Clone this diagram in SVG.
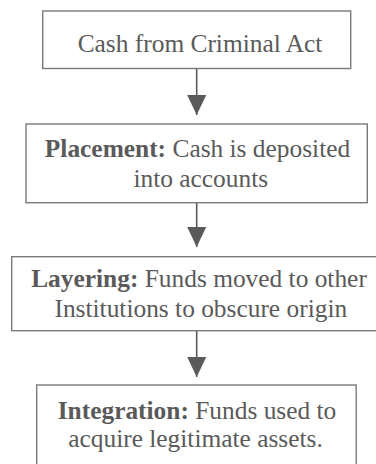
<svg xmlns="http://www.w3.org/2000/svg" width="376" height="464" viewBox="0 0 376 464">
<defs>
<style>
.box{fill:#ffffff;stroke:#7a7a7a;stroke-width:1.4}
text{font-family:'Liberation Serif','Times New Roman','DejaVu Serif',serif;font-size:25.4px;fill:#5a5a5a;text-anchor:middle}
.b{font-weight:bold}
.line{stroke:#5a5a5a;stroke-width:1.6;fill:none}
</style>
<marker id="ah" viewBox="0 0 20 19" refX="20" refY="9.5" markerWidth="20" markerHeight="19" markerUnits="userSpaceOnUse" orient="auto">
<path d="M0,0 L20,9.5 L0,19 Z" fill="#5a5a5a"/>
</marker>
</defs>
<rect width="376" height="464" fill="#ffffff"/>
<g id="connectors">
<line class="line" x1="196.7" y1="69" x2="196.7" y2="115" marker-end="url(#ah)"/>
<line class="line" x1="196.7" y1="203" x2="196.7" y2="247" marker-end="url(#ah)"/>
<line class="line" x1="196.7" y1="331" x2="196.7" y2="377" marker-end="url(#ah)"/>
</g>
<g font-family="Liberation Serif, serif">
<g id="n1">
<rect class="box" x="42.7" y="11" width="308" height="57.5"/>
<text x="200" y="51.7" font-family="Liberation Serif, serif">Cash from Criminal Act</text>
</g>
<g id="n2">
<rect class="box" x="26" y="124" width="341.3" height="78.7"/>
<text x="197.5" y="156.7" font-family="Liberation Serif, serif"><tspan class="b">Placement:</tspan> Cash is deposited</text>
<text x="200.8" y="186.7" font-family="Liberation Serif, serif">into accounts</text>
</g>
<g id="n3">
<rect class="box" x="11.7" y="256.7" width="380" height="74"/>
<text x="199" y="287.3" font-family="Liberation Serif, serif"><tspan class="b">Layering:</tspan> Funds moved to other</text>
<text x="200.8" y="316.7" font-family="Liberation Serif, serif">Institutions to obscure origin</text>
</g>
<g id="n4">
<rect class="box" x="36.7" y="385" width="319.5" height="90"/>
<text x="197" y="418.5" font-family="Liberation Serif, serif"><tspan class="b">Integration:</tspan> Funds used to</text>
<text x="195.5" y="446.7" font-family="Liberation Serif, serif">acquire legitimate assets.</text>
</g>
</g>
</svg>
